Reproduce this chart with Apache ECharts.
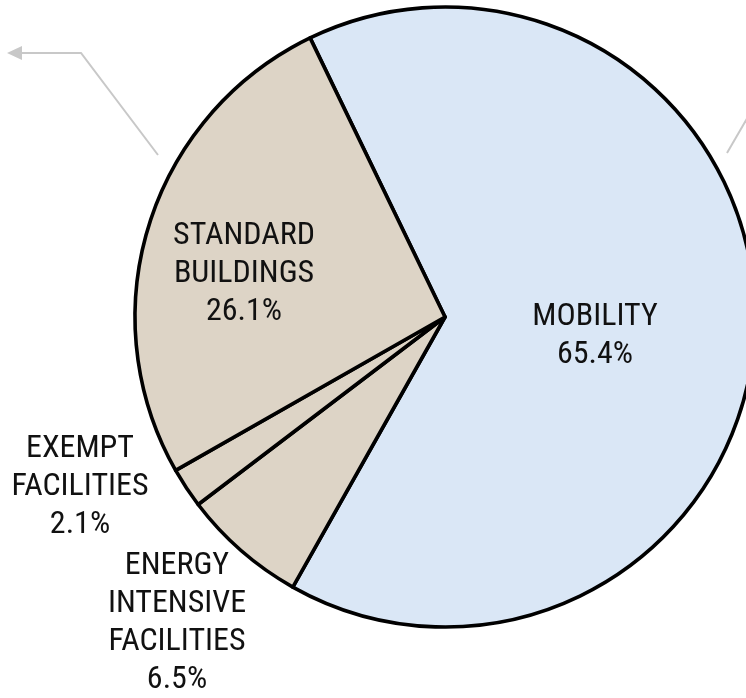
<!DOCTYPE html>
<html>
<head>
<meta charset="utf-8">
<script src="https://cdn.jsdelivr.net/npm/echarts@6/dist/echarts.min.js"></script>
<style>html,body{margin:0;padding:0;background:#fff}#chart{width:746px;height:698px}</style>
</head>
<body>
<div id="chart"></div>
<script>
const categories = ['MOBILITY', 'ENERGY\nINTENSIVE\nFACILITIES', 'EXEMPT\nFACILITIES', 'STANDARD\nBUILDINGS'];
const shares = [65.4, 6.5, 2.1, 26.1];

const sliceColors = ['#dae7f6', '#ddd4c6', '#ddd4c6', '#ddd4c6'];
const labelSpots = [[595, 336], [177, 623], [80, 487], [244, 274]];

const chart = echarts.init(document.getElementById('chart'));
chart.setOption({
  animation: false,
  backgroundColor: '#ffffff',
  series: [{
    type: 'pie',
    center: [445, 317],
    radius: 310,
    startAngle: 115.8,
    clockwise: true,
    data: categories.map((c, i) => ({ name: c, value: shares[i], itemStyle: { color: sliceColors[i] } })),
    itemStyle: { borderColor: '#000', borderWidth: 3.6 },
    label: {
      show: true,
      position: 'inside',
      formatter: p => p.name + '\n' + p.value.toFixed(1) + '%',
      fontFamily: '"Roboto Condensed", "Liberation Sans", Arial, sans-serif',
      fontSize: 32,
      lineHeight: 38,
      color: '#111',
      align: 'center'
    },
    labelLine: { show: false },
    labelLayout: p => ({ x: labelSpots[p.dataIndex][0], y: labelSpots[p.dataIndex][1], align: 'center', verticalAlign: 'middle' }),
    emphasis: { disabled: true }
  }],
  graphic: [
    { type: 'polyline', shape: { points: [[158, 155], [81, 53], [20, 53]] }, style: { stroke: '#c8c8c8', lineWidth: 2, fill: null } },
    { type: 'polygon', shape: { points: [[7, 53], [22, 46], [22, 60]] }, style: { fill: '#c8c8c8' } },
    { type: 'line', shape: { x1: 727, y1: 153, x2: 760, y2: 96 }, style: { stroke: '#c8c8c8', lineWidth: 2 } }
  ]
});
</script>
</body>
</html>
